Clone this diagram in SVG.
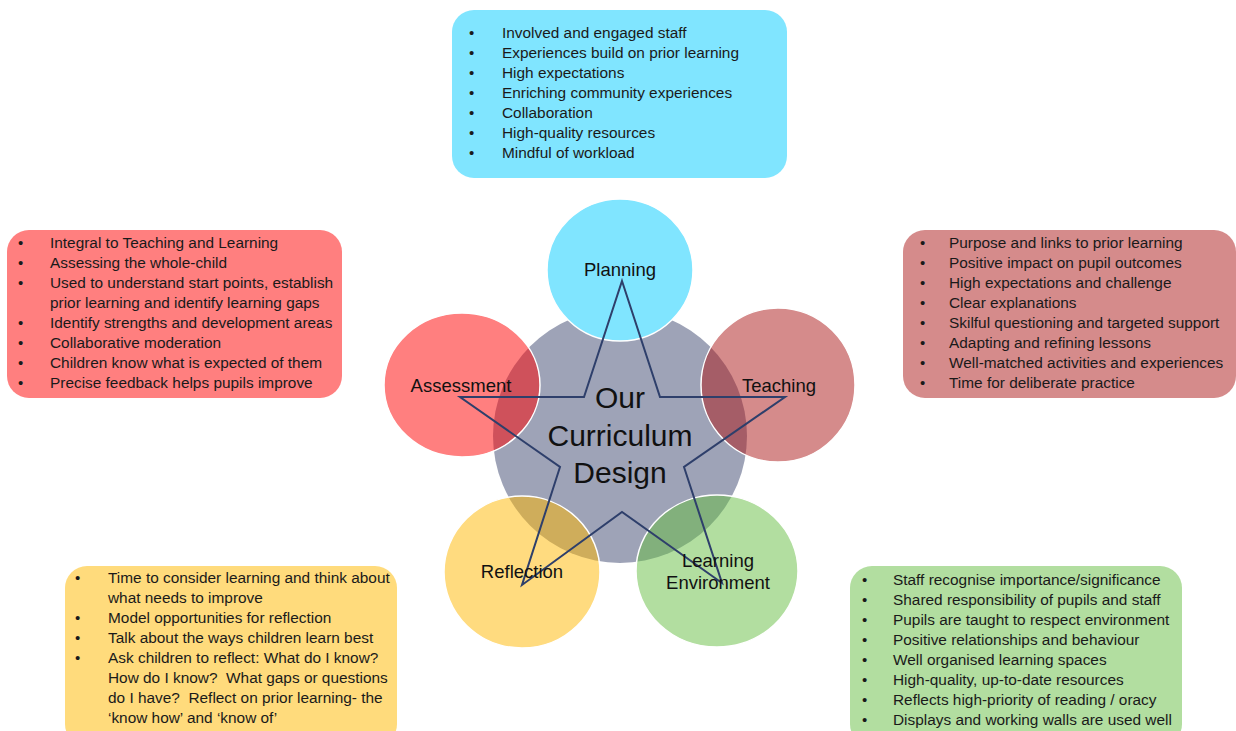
<svg xmlns="http://www.w3.org/2000/svg" width="1236" height="731" viewBox="0 0 1236 731">
<style>
.box{stroke:none}
.li{font-family:"Liberation Sans",Arial,sans-serif;font-size:15.4px;fill:#1a1a1a}
.bul{font-family:"Liberation Sans",Arial,sans-serif;font-size:15px;fill:#1a1a1a}
.lbl{font-family:"Liberation Sans",Arial,sans-serif;font-size:18.5px;fill:#111;text-anchor:middle}
.ctr{font-family:"Liberation Sans",Arial,sans-serif;font-size:30px;fill:#111;text-anchor:middle}
.circ{stroke:#ffffff;stroke-width:1.5}
</style>
<rect width="1236" height="731" fill="#ffffff"/>

<g id="center">
<ellipse cx="620" cy="436" rx="127" ry="127" fill="#9EA3B7"/>
</g>
<g id="planning">
<ellipse class="circ" cx="620" cy="270" rx="73" ry="71" fill="#80E5FF"/>
</g>
<g id="assessment">
<ellipse class="circ" cx="462" cy="385" rx="78" ry="72" fill="#FF0000" fill-opacity="0.5"/>
</g>
<g id="teaching">
<ellipse class="circ" cx="778" cy="385" rx="77" ry="77" fill="#AB1717" fill-opacity="0.5"/>
</g>
<g id="reflection">
<ellipse class="circ" cx="522" cy="572" rx="78" ry="76" fill="#FFB700" fill-opacity="0.5"/>
</g>
<g id="learning-environment">
<ellipse class="circ" cx="717" cy="571" rx="81" ry="76" fill="#65BD41" fill-opacity="0.5"/>
</g>

<g id="connectors">
<path d="M622,281 L660,397 L785,397 L684,467 L722,583 L622,512 L522,585 L560,467 L460,397 L584,397 Z" fill="none" stroke="#2E3F6B" stroke-width="2" stroke-linejoin="miter"/>
</g>

<g id="labels">
<text class="lbl" x="620" y="276">Planning</text>
<text class="lbl" x="461" y="392">Assessment</text>
<text class="lbl" x="779" y="392">Teaching</text>
<text class="lbl" x="522" y="578">Reflection</text>
<text class="lbl" x="718" y="567">Learning</text>
<text class="lbl" x="718" y="589">Environment</text>
<text class="ctr" x="620" y="408">Our</text>
<text class="ctr" x="620" y="446">Curriculum</text>
<text class="ctr" x="620" y="483">Design</text>
</g>

<g id="box-planning">
<rect class="box" x="452" y="10" width="335" height="168" rx="22" fill="#80E5FF"/>
<g class="bul"><text x="469" y="38">•</text><text x="469" y="58">•</text><text x="469" y="78">•</text><text x="469" y="98">•</text><text x="469" y="118">•</text><text x="469" y="138">•</text><text x="469" y="158">•</text></g>
<g class="li">
<text x="502" y="38">Involved and engaged staff</text>
<text x="502" y="58">Experiences build on prior learning</text>
<text x="502" y="78">High expectations</text>
<text x="502" y="98">Enriching community experiences</text>
<text x="502" y="118">Collaboration</text>
<text x="502" y="138">High-quality resources</text>
<text x="502" y="158">Mindful of workload</text>
</g>
</g>

<g id="box-assessment">
<rect class="box" x="7" y="230" width="335" height="168" rx="22" fill="#FF7F7F"/>
<g class="bul"><text x="18" y="248">•</text><text x="18" y="268">•</text><text x="18" y="288">•</text><text x="18" y="328">•</text><text x="18" y="348">•</text><text x="18" y="368">•</text><text x="18" y="388">•</text></g>
<g class="li">
<text x="50" y="248">Integral to Teaching and Learning</text>
<text x="50" y="268">Assessing the whole-child</text>
<text x="50" y="288">Used to understand start points, establish</text>
<text x="50" y="308">prior learning and identify learning gaps</text>
<text x="50" y="328">Identify strengths and development areas</text>
<text x="50" y="348">Collaborative moderation</text>
<text x="50" y="368">Children know what is expected of them</text>
<text x="50" y="388">Precise feedback helps pupils improve</text>
</g>
</g>

<g id="box-teaching">
<rect class="box" x="903" y="230" width="333" height="168" rx="22" fill="#D58B8B"/>
<g class="bul"><text x="920" y="248">•</text><text x="920" y="268">•</text><text x="920" y="288">•</text><text x="920" y="308">•</text><text x="920" y="328">•</text><text x="920" y="348">•</text><text x="920" y="368">•</text><text x="920" y="388">•</text></g>
<g class="li">
<text x="949" y="248">Purpose and links to prior learning</text>
<text x="949" y="268">Positive impact on pupil outcomes</text>
<text x="949" y="288">High expectations and challenge</text>
<text x="949" y="308">Clear explanations</text>
<text x="949" y="328">Skilful questioning and targeted support</text>
<text x="949" y="348">Adapting and refining lessons</text>
<text x="949" y="368">Well-matched activities and experiences</text>
<text x="949" y="388">Time for deliberate practice</text>
</g>
</g>

<g id="box-reflection">
<rect class="box" x="65" y="566" width="332" height="180" rx="22" fill="#FFDB7C"/>
<g class="bul"><text x="75" y="583">•</text><text x="75" y="623">•</text><text x="75" y="643">•</text><text x="75" y="663">•</text></g>
<g class="li">
<text x="108" y="583">Time to consider learning and think about</text>
<text x="108" y="603">what needs to improve</text>
<text x="108" y="623">Model opportunities for reflection</text>
<text x="108" y="643">Talk about the ways children learn best</text>
<text x="108" y="663">Ask children to reflect: What do I know?</text>
<text x="108" y="683" xml:space="preserve">How do I know?  What gaps or questions</text>
<text x="108" y="703" xml:space="preserve">do I have?  Reflect on prior learning- the</text>
<text x="108" y="723">‘know how’ and ‘know of’</text>
</g>
</g>

<g id="box-learning-environment">
<rect class="box" x="850" y="566" width="332" height="180" rx="22" fill="#B2DEA0"/>
<g class="bul"><text x="862" y="585">•</text><text x="862" y="605">•</text><text x="862" y="625">•</text><text x="862" y="645">•</text><text x="862" y="665">•</text><text x="862" y="685">•</text><text x="862" y="705">•</text><text x="862" y="725">•</text></g>
<g class="li">
<text x="893" y="585">Staff recognise importance/significance</text>
<text x="893" y="605">Shared responsibility of pupils and staff</text>
<text x="893" y="625">Pupils are taught to respect environment</text>
<text x="893" y="645">Positive relationships and behaviour</text>
<text x="893" y="665">Well organised learning spaces</text>
<text x="893" y="685">High-quality, up-to-date resources</text>
<text x="893" y="705">Reflects high-priority of reading / oracy</text>
<text x="893" y="725">Displays and working walls are used well</text>
</g>
</g>
</svg>
